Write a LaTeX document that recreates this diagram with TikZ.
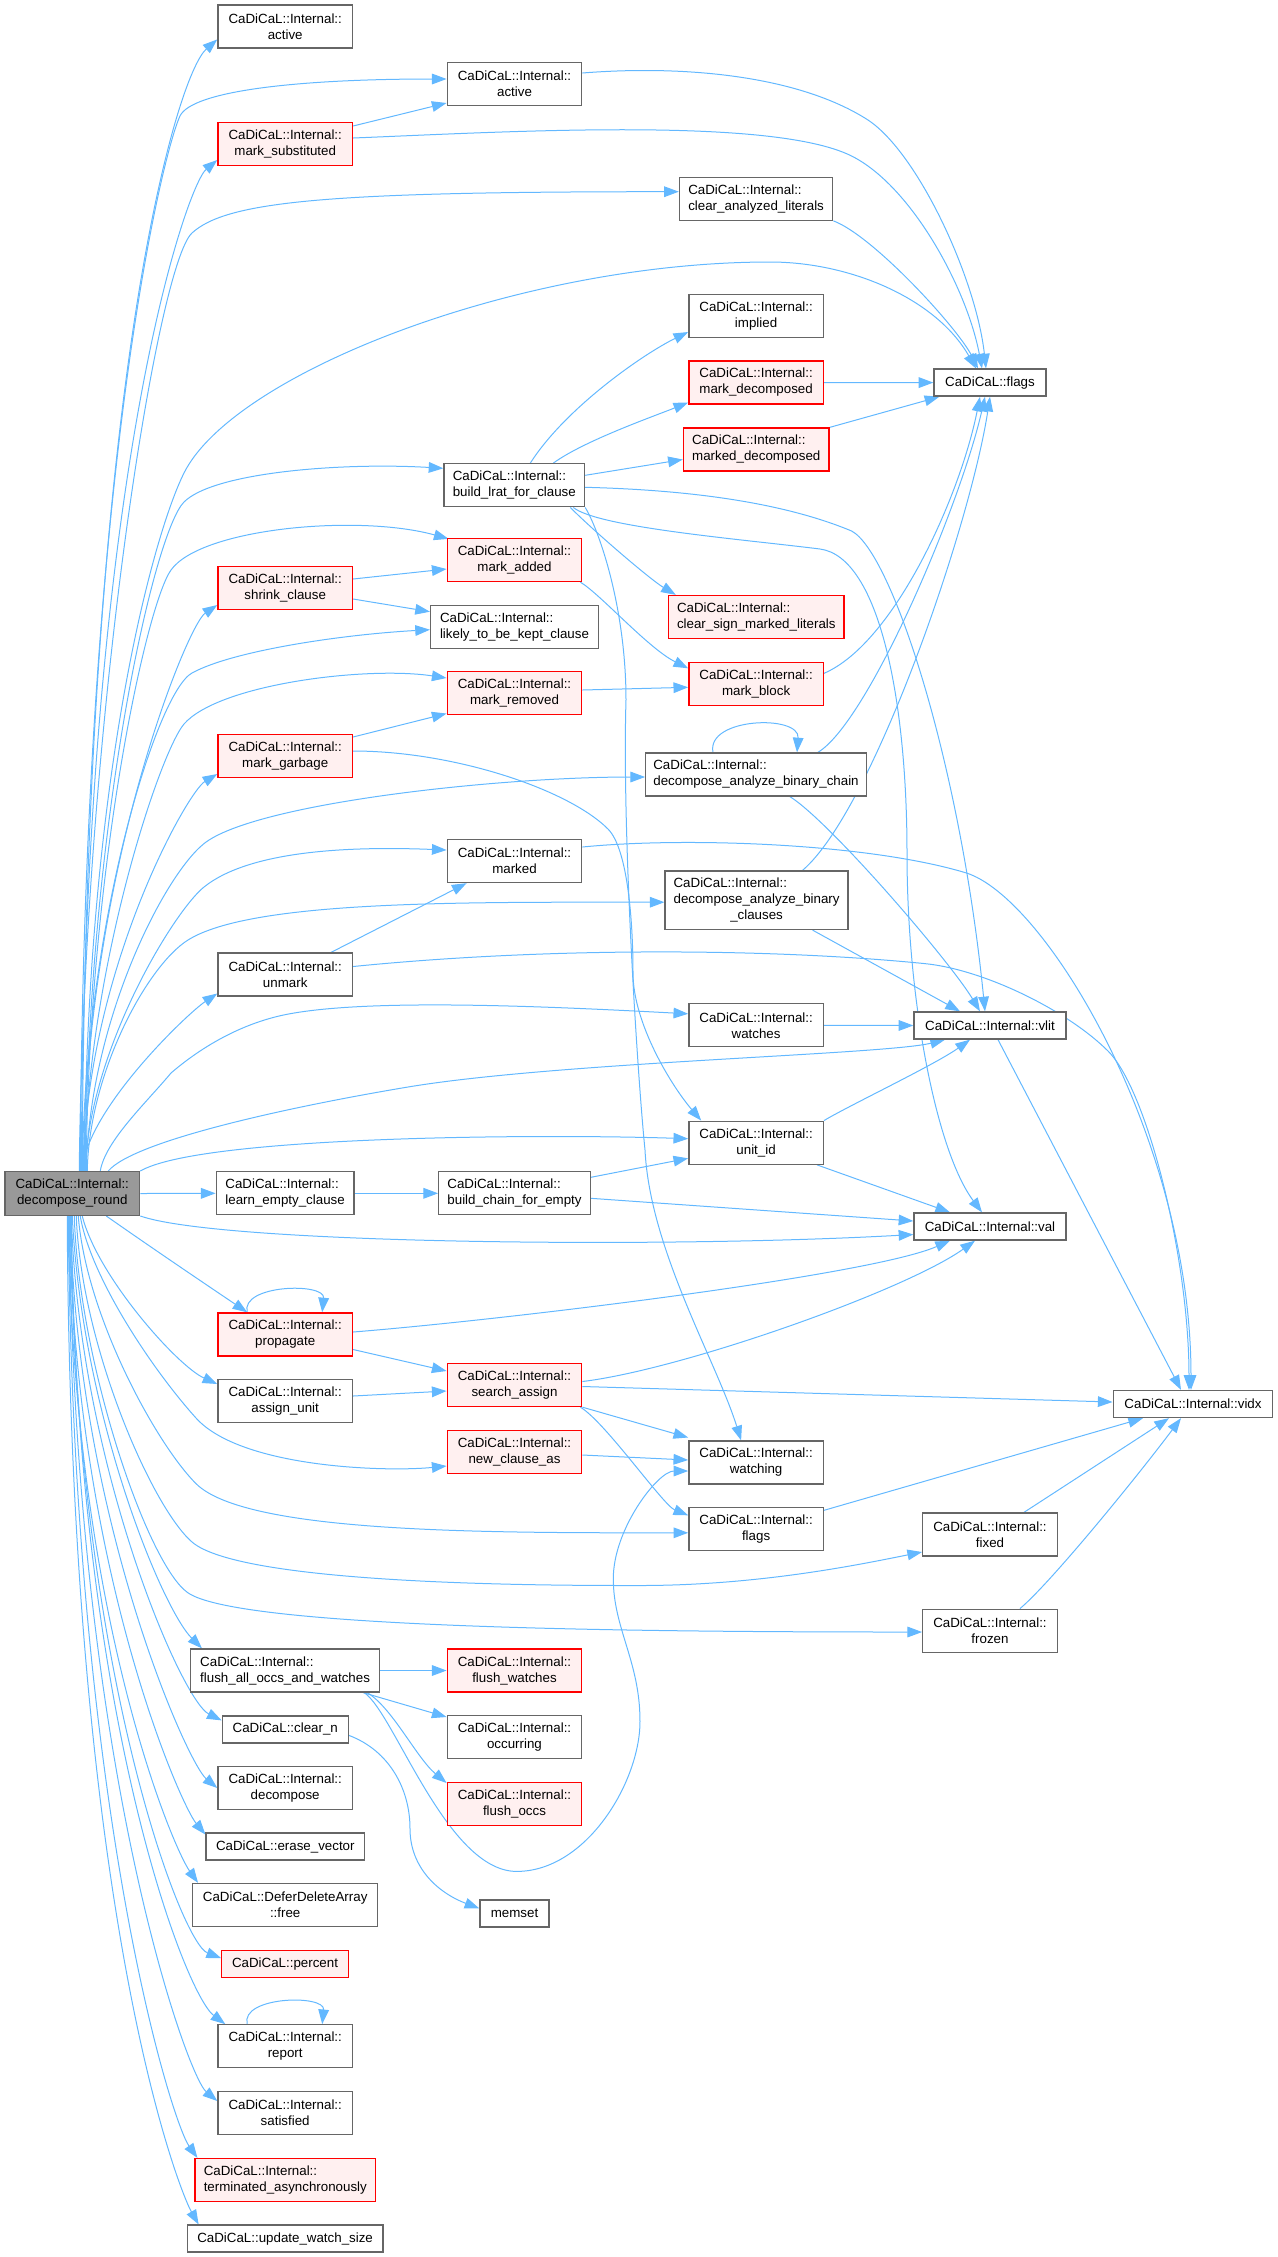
\documentclass[tikz,border=0pt]{standalone}
\usepackage{fontspec}
\setmainfont{Liberation Sans}
\usetikzlibrary{arrows.meta,calc}
\definecolor{edgec}{HTML}{63B8FF}
\definecolor{gbord}{HTML}{666666}
\definecolor{rfill}{HTML}{FFF0F0}
\definecolor{rootf}{HTML}{999999}
\pgfdeclarelayer{bg}
\pgfsetlayers{bg,main}
\begin{document}
\begin{tikzpicture}[x=0.75pt,y=-0.75pt,
  nd/.style={draw=gbord, fill=white, line width=1pt, inner sep=0pt, font=\fontsize{10}{12}\selectfont, align=center},
  rd/.style={nd, draw=red, fill=rfill},
  rt/.style={nd, fill=rootf},
  lft/.style={align=left},
  sz/.style 2 args={minimum width=#1*0.75pt, minimum height=#2*0.75pt},
  std/.style={sz={134.5}{43}},
  cg/.style={draw=edgec, line width=0.75pt, -{Triangle[length=11pt,width=8pt]}},
]
\useasboundingbox (0,0) rectangle (1278,2257);

% ---------------- nodes ----------------
\node[rt, sz={134.7}{43.6}] (root) at (72.25,1193.5) {CaDiCaL::Internal::\\decompose\_round};
% column 2
\node[nd,std] (activeA) at (285.2,26.4) {CaDiCaL::Internal::\\active};
\node[rd,std] (msub) at (285.2,144) {CaDiCaL::Internal::\\mark\_substituted};
\node[rd,std] (shrink) at (285.2,588) {CaDiCaL::Internal::\\shrink\_clause};
\node[rd,std] (mgarb) at (285.2,756) {CaDiCaL::Internal::\\mark\_garbage};
\node[nd,std] (unmark) at (285.2,974.5) {CaDiCaL::Internal::\\unmark};
\node[nd,lft,sz={137.6}{43}] (learn) at (285.1,1193.3) {CaDiCaL::Internal::\\learn\_empty\_clause};
\node[rd,std] (prop) at (285.2,1334.5) {CaDiCaL::Internal::\\propagate};
\node[nd,std] (assign) at (285.2,1401) {CaDiCaL::Internal::\\assign\_unit};
\node[nd,lft,sz={189}{43}] (flushall) at (285.1,1670.5) {CaDiCaL::Internal::\\flush\_all\_occs\_and\_watches};
\node[nd,sz={126}{27}] (clearn) at (285.3,1729.4) {CaDiCaL::clear\_n};
\node[nd,std] (decomp) at (285.2,1788) {CaDiCaL::Internal::\\decompose};
\node[nd,sz={158.4}{27}] (erase) at (285.3,1846.5) {CaDiCaL::erase\_vector};
\node[nd,sz={185}{43}] (deferfree) at (285.2,1905) {CaDiCaL::DeferDeleteArray\\::free};
\node[rd,sz={126.6}{27}] (percent) at (285,1964) {CaDiCaL::percent};
\node[nd,std] (report) at (285.2,2046.3) {CaDiCaL::Internal::\\report};
\node[nd,std] (satisfied) at (285.2,2113) {CaDiCaL::Internal::\\satisfied};
\node[rd,lft,sz={180.4}{43}] (terminated) at (285.3,2180) {CaDiCaL::Internal::\\terminated\_asynchronously};
\node[nd,sz={195.6}{27}] (updatews) at (285.1,2238.6) {CaDiCaL::update\_watch\_size};
% column 3
\node[nd,std] (activeB) at (514.5,84) {CaDiCaL::Internal::\\active};
\node[nd,lft,sz={140.5}{43}] (buildlrat) at (514.3,485.3) {CaDiCaL::Internal::\\build\_lrat\_for\_clause};
\node[rd,std] (madded) at (514.5,560) {CaDiCaL::Internal::\\mark\_added};
\node[nd,lft,sz={167.8}{43}] (likely) at (514.5,626.7) {CaDiCaL::Internal::\\likely\_to\_be\_kept\_clause};
\node[rd,std] (mremoved) at (514.5,693) {CaDiCaL::Internal::\\mark\_removed};
\node[nd,std] (marked) at (514.5,861) {CaDiCaL::Internal::\\marked};
\node[nd,lft,sz={151.4}{43}] (buildchain) at (514.5,1193.3) {CaDiCaL::Internal::\\build\_chain\_for\_empty};
\node[rd,std] (search) at (514.5,1385) {CaDiCaL::Internal::\\search\_assign};
\node[rd,std] (newclause) at (514.5,1452) {CaDiCaL::Internal::\\new\_clause\_as};
\node[rd,std] (flushw) at (514.5,1670.5) {CaDiCaL::Internal::\\flush\_watches};
\node[nd,std] (occurring) at (514.5,1737) {CaDiCaL::Internal::\\occurring};
\node[rd,std] (flushoccs) at (514.5,1804) {CaDiCaL::Internal::\\flush\_occs};
\node[nd,sz={69}{27}] (memset) at (514.5,1913.4) {memset};
% column 4
\node[nd,lft,sz={153.3}{43}] (clearana) at (756.1,198.7) {CaDiCaL::Internal::\\clear\_analyzed\_literals};
\node[nd,std] (implied) at (756.1,316) {CaDiCaL::Internal::\\implied};
\node[rd,std] (mdec) at (756.1,382.5) {CaDiCaL::Internal::\\mark\_decomposed};
\node[rd,lft,sz={145.7}{43}] (mkddec) at (756.3,449.5) {CaDiCaL::Internal::\\marked\_decomposed};
\node[rd,lft,sz={175.7}{43}] (clearsign) at (756.3,617) {CaDiCaL::Internal::\\clear\_sign\_marked\_literals};
\node[rd,std] (mblock) at (756.1,684.3) {CaDiCaL::Internal::\\mark\_block};
\node[nd,lft,sz={220.5}{43}] (chain) at (756,774.5) {CaDiCaL::Internal::\\decompose\_analyze\_binary\_chain};
\node[nd,sz={183}{58.5}] (clauses) at (756.6,900.2) {\rlap{CaDiCaL::Internal::}\hphantom{decompose\_analyze\_binary}\\decompose\_analyze\_binary\\\_clauses};
\node[nd,std] (watches) at (756.1,1025.3) {CaDiCaL::Internal::\\watches};
\node[nd,std] (unitid) at (756.1,1142.7) {CaDiCaL::Internal::\\unit\_id};
\node[nd,std] (watching) at (756.1,1462.5) {CaDiCaL::Internal::\\watching};
\node[nd,std] (flagsI) at (756.1,1529.3) {CaDiCaL::Internal::\\flags};
% column 5
\node[nd,sz={112}{27}] (flags) at (990,382.6) {CaDiCaL::flags};
\node[nd,sz={152}{27}] (vlit) at (990,1025.5) {CaDiCaL::Internal::vlit};
\node[nd,sz={152}{27}] (val) at (990,1226.5) {CaDiCaL::Internal::val};
\node[nd,std] (fixed) at (990,1534.5) {CaDiCaL::Internal::\\fixed};
\node[nd,std] (frozen) at (990,1630.7) {CaDiCaL::Internal::\\frozen};
% column 6
\node[nd,sz={159.6}{27}] (vidx) at (1193,1404) {CaDiCaL::Internal::vidx};

% ---------------- edges ----------------
\begin{pgfonlayer}{bg}
% root, upward
\draw[cg] ($(root.north)+(10,0)$) .. controls +(3,-800) and +(-40,35) .. ($(activeA.west)+(0,13)$);
\draw[cg] ($(root.north)+(8,0)$) .. controls +(3,-700) and +(-17,36) .. (180,116) .. controls +(12,-25) and +(-150,0) .. ($(activeB.west)+(0,-5)$);
\draw[cg] ($(root.north)+(9,0)$) .. controls +(3,-700) and +(-30,25) .. ($(msub.west)+(0,16)$);
\draw[cg] ($(root.north)+(7,0)$) .. controls +(5,-450) and +(-35,32) .. (192,233) .. controls +(35,-32) and +(-350,0) .. ($(clearana.west)+(0,-7)$);
\draw[cg] ($(root.north)+(12,0)$) .. controls +(3,-400) and +(-30,60) .. (184,473) .. controls +(50,-100) and +(-250,0) .. (770,262) .. controls +(80,0) and +(-40,-70) .. ($(flags.north)+(-14,0)$);
\draw[cg] ($(root.north)+(13,0)$) .. controls +(3,-350) and +(-30,30) .. (184,502) .. controls +(30,-30) and +(-100,-6) .. ($(buildlrat.west)+(0,-17)$);
\draw[cg] ($(root.north)+(14,0)$) .. controls +(2,-300) and +(-25,35) .. (171,570) .. controls +(30,-42) and +(-90,-25) .. ($(madded.north west)+(2,1)$);
\draw[cg] ($(root.north)+(11,0)$) .. controls +(3,-300) and +(-30,20) .. ($(shrink.west)+(0,17)$);
\draw[cg] ($(root.north)+(10,0)$) .. controls +(3,-250) and +(-35,19) .. (192,673) .. controls +(40,-22) and +(-90,5) .. ($(likely.west)+(0,3)$);
\draw[cg] ($(root.north)+(12,0)$) .. controls +(3,-200) and +(-25,30) .. (184,724) .. controls +(35,-40) and +(-80,-12) .. ($(mremoved.west)+(0,-15)$);
\draw[cg] ($(root.north)+(11,0)$) .. controls +(3,-200) and +(-30,18) .. ($(mgarb.west)+(0,18)$);
\draw[cg] ($(root.north)+(14,0)$) .. controls +(3,-150) and +(-40,32) .. (204,843.6) .. controls +(50,-40) and +(-150,0) .. ($(chain.west)+(0,2.5)$);
\draw[cg] ($(root.north)+(13,0)$) .. controls +(3,-120) and +(-30,24) .. (204,887) .. controls +(45,-36) and +(-100,-4) .. ($(marked.west)+(0,-11)$);
\draw[cg] ($(root.north)+(15,0)$) .. controls +(2,-100) and +(-40,25) .. (188,940) .. controls +(64,-40) and +(-200,0) .. ($(clauses.west)+(0,2)$);
\draw[cg] ($(root.north)+(10,0)$) .. controls +(3,-60) and +(-30,20) .. ($(unmark.west)+(0,19)$);
\draw[cg] ($(root.north)+(28,0)$) .. controls +(5,-30) and +(-25,30) .. (171,1073) .. controls +(35,-30) and +(-40,8) .. (286,1014.5) .. controls +(80,-16) and +(-150,-8) .. ($(watches.west)+(0,-11.5)$);
\draw[cg] ($(root.north)+(36,0)$) .. controls +(25,-30) and +(-120,20) .. (408,1087) .. controls +(150,-25) and +(-60,15) .. ($(vlit.south)+(-45,0)$);
\draw[cg] (root.north east) .. controls +(60,-35) and +(-150,-5) .. ($(unitid.west)+(0,-4)$);
\draw[cg] (root.east) -- (learn.west);
% root, downward
\draw[cg] (root.south east) .. controls +(80,28) and +(-250,14) .. ($(val.west)+(0,8)$);
\draw[cg] ($(root.south)+(34,0)$) .. controls +(50,35) and +(-40,-27) .. ($(prop.north west)+(30,0)$);
\draw[cg] ($(root.south)+(10,0)$) .. controls +(15,60) and +(-40,-18) .. ($(assign.west)+(0,-17)$);
\draw[cg] ($(root.south)+(8,0)$) .. controls +(10,60) and +(-45,-50) .. (196,1418) .. controls +(45,50) and +(-60,6) .. ($(newclause.west)+(0,14)$);
\draw[cg] ($(root.south)+(6,0)$) .. controls +(8,100) and +(-40,-40) .. (196,1483.6) .. controls +(50,50) and +(-200,0) .. ($(flagsI.west)+(0,3.5)$);
\draw[cg] ($(root.south)+(4,0)$) .. controls +(5,130) and +(-40,-35) .. (191.8,1541.8) .. controls +(50,44) and +(-80,0) .. (640,1585.5) .. controls +(120,0) and +(-60,12) .. ($(fixed.west)+(0,17.5)$);
\draw[cg] ($(root.south)+(2,0)$) .. controls +(5,150) and +(-40,-28) .. (187.8,1592.7) .. controls +(50,35) and +(-300,0) .. ($(frozen.west)+(0,1.3)$);
\draw[cg] (root.south) .. controls +(10,200) and +(-40,-40) .. ($(flushall.north west)+(12,0)$);
\draw[cg] ($(root.south)+(-1,0)$) .. controls +(8,250) and +(-40,-20) .. ($(clearn.west)+(0,-9)$);
\draw[cg] ($(root.south)+(-2,0)$) .. controls +(6,300) and +(-30,-25) .. (decomp.west);
\draw[cg] ($(root.south)+(-3,0)$) .. controls +(5,350) and +(-25,-30) .. ($(erase.west)+(0,-12)$);
\draw[cg] ($(root.south)+(-4,0)$) .. controls +(5,400) and +(-25,-35) .. ($(deferfree.north west)+(6,0)$);
\draw[cg] ($(root.south)+(-2,0)$) .. controls +(5,450) and +(-40,-15) .. ($(percent.west)+(0,-6)$);
\draw[cg] ($(root.south)+(-1,0)$) .. controls +(5,500) and +(-40,-30) .. ($(report.north west)+(8,0)$);
\draw[cg] ($(root.south)+(-3,0)$) .. controls +(5,550) and +(-30,-25) .. ($(satisfied.west)+(0,-12)$);
\draw[cg] ($(root.south)+(-4,0)$) .. controls +(5,600) and +(-25,-35) .. ($(terminated.north west)+(3,0)$);
\draw[cg] ($(root.south)+(-5,0)$) .. controls +(3,700) and +(-20,-35) .. ($(updatews.north west)+(12,0)$);
% other edges
\draw[cg] ($(msub.east)+(0,-18)$) -- ($(activeB.west)+(0,19)$);
\draw[cg] ($(msub.east)+(0,-6)$) .. controls +(150,-6) and +(-80,-40) .. (851.6,156) .. controls +(60,30) and +(-15,-80) .. ($(flags.north)+(-8,0)$);
\draw[cg] ($(activeB.east)+(0,-11)$) .. controls +(100,-8) and +(-70,-45) .. (868,120) .. controls +(50,33) and +(-10,-90) .. ($(flags.north)+(-4,0)$);
\draw[cg] (clearana.south east) .. controls +(40,15) and +(-20,-40) .. ($(flags.north)+(-12,0)$);
\draw[cg] ($(buildlrat.north)+(16,0)$) .. controls +(35,-55) and +(-45,22) .. ($(implied.west)+(0,16)$);
\draw[cg] ($(buildlrat.north)+(39,0)$) .. controls +(30,-22) and +(-35,14) .. ($(mdec.west)+(0,20)$);
\draw[cg] ($(buildlrat.east)+(0,-10)$) -- ($(mkddec.west)+(0,10)$);
\draw[cg] (mdec.east) -- (flags.west);
\draw[cg] (mkddec.north east) -- ($(flags.south west)+(6,0)$);
\draw[cg] ($(buildlrat.east)+(0,2)$) .. controls +(120,3) and +(-60,-25) .. (851.6,531) .. controls +(40,21) and +(-25,-250) .. ($(vlit.north)+(-5,0)$);
\draw[cg] ($(buildlrat.south)+(59,0)$) .. controls +(25,20) and +(-80,-10) .. (820,549) .. controls +(60,8) and +(0,-150) .. (907,853) .. controls +(0,150) and +(-45,-60) .. ($(val.north)+(-8,0)$);
\draw[cg] ($(buildlrat.south)+(56,0)$) .. controls +(25,25) and +(-25,-15) .. ($(clearsign.north west)+(8,0)$);
\draw[cg] (buildlrat.south east) .. controls +(15,25) and +(0,-90) .. (626,700) .. controls +(-4,130) and +(-8,-80) .. (645,1150) .. controls +(5,100) and +(-25,-80) .. ($(watching.north)+(-15,0)$);
\draw[cg] ($(mgarb.east)+(0,-5)$) .. controls +(100,0) and +(-40,-40) .. (608,829) .. controls +(20,20) and +(0,-50) .. (633,973) .. controls +(0,50) and +(-30,-35) .. ($(unitid.north west)+(13,0)$);
\draw[cg] ($(mgarb.east)+(0,-19)$) -- ($(mremoved.west)+(0,20.5)$);
\draw[cg] ($(shrink.east)+(0,-9)$) -- ($(madded.west)+(0,9)$);
\draw[cg] ($(shrink.east)+(0,11)$) -- ($(likely.west)+(0,-15)$);
\draw[cg] ($(madded.south east)+(-2,0)$) .. controls +(20,12) and +(-40,-20) .. ($(mblock.west)+(0,-16)$);
\draw[cg] ($(mremoved.east)+(0,-3)$) -- ($(mblock.west)+(0,3)$);
\draw[cg] ($(mblock.east)+(0,-11)$) .. controls +(70,-30) and +(-20,100) .. ($(flags.south)+(-10,0)$);
\draw[cg] ($(chain.north east)+(-49,0)$) .. controls +(50,-30) and +(-25,110) .. ($(flags.south)+(-5,0)$);
\draw[cg] ($(clauses.north)+(46,0)$) .. controls +(70,-60) and +(-20,130) .. (flags.south);
\draw[cg] ($(chain.north)+(-43,0)$) .. controls +(-7,-35) and +(3,-38) .. ($(chain.north)+(41,0)$);
\draw[cg] ($(chain.south)+(34,0)$) .. controls +(40,25) and +(-30,-50) .. ($(vlit.north)+(-10,0)$);
\draw[cg] ($(clauses.south)+(56,0)$) -- ($(vlit.north)+(-30,0)$);
\draw[cg] (watches.east) -- (vlit.west);
\draw[cg] (unitid.north east) .. controls +(25,-15) and +(-35,25) .. ($(vlit.south)+(-20,0)$);
\draw[cg] ($(marked.east)+(0,-14)$) .. controls +(100,-10) and +(-100,-30) .. (965.5,872.7) .. controls +(80,24) and +(0,-250) .. ($(vidx.north)+(-2,0)$);
\draw[cg] ($(unmark.east)+(0,-8)$) .. controls +(200,-20) and +(-150,-15) .. (924.8,963.6) .. controls +(60,6) and +(-40,-40) .. (1108,1051) .. controls +(40,40) and +(0,-130) .. ($(vidx.north)+(-4,0)$);
\draw[cg] ($(unmark.north east)+(-22,0)$) -- ($(marked.south west)+(20,0)$);
\draw[cg] ($(vlit.south)+(8,0)$) -- ($(vidx.north)+(-12,0)$);
\draw[cg] (learn.east) -- (buildchain.west);
\draw[cg] ($(buildchain.east)+(0,-16)$) -- ($(unitid.west)+(0,15.6)$);
\draw[cg] ($(buildchain.east)+(0,5)$) -- ($(val.west)+(0,-5.5)$);
\draw[cg] ($(unitid.south east)+(-7,0)$) -- ($(val.north)+(-40,0)$);
\draw[cg] ($(prop.east)+(0,-2.5)$) .. controls +(150,-12) and +(-80,35) .. ($(val.south)+(-40,0)$);
\draw[cg] ($(prop.east)+(0,15)$) -- ($(search.west)+(0,-14)$);
\draw[cg] ($(prop.north)+(-38,0)$) .. controls +(-7,-28) and +(3,-30) .. ($(prop.north)+(37,0)$);
\draw[cg] ($(assign.east)+(0,-5)$) -- ($(search.west)+(0,6)$);
\draw[cg] ($(search.east)+(0,-3.5)$) .. controls +(100,-12) and +(-70,50) .. ($(val.south)+(-15,0)$);
\draw[cg] ($(search.east)+(0,1.5)$) -- ($(vidx.west)+(0,-2)$);
\draw[cg] (search.south east) -- ($(watching.west)+(0,-25)$);
\draw[cg] ($(search.south east)+(-2,0)$) .. controls +(25,15) and +(-25,-10) .. ($(flagsI.west)+(0,-14)$);
\draw[cg] ($(newclause.east)+(0,3)$) -- ($(watching.west)+(0,-2.5)$);
\draw[cg] ($(flushall.south east)+(-16,0)$) .. controls +(30,20) and +(-70,0) .. (516.7,1871.4) .. controls +(70,0) and +(0,60) .. (640,1721.4) .. controls +(0,-60) and +(0,50) .. (613.3,1578.6) .. controls +(0,-50) and +(-30,0) .. ($(watching.west)+(0,8.5)$);
\draw[cg] (flushall.east) -- (flushw.west);
\draw[cg] ($(flushall.south east)+(-17,0)$) -- ($(occurring.west)+(0,-20)$);
\draw[cg] ($(flushall.south east)+(-13,0)$) .. controls +(25,15) and +(-30,-25) .. ($(flushoccs.west)+(0,-21)$);
\draw[cg] ($(clearn.east)+(0,6)$) .. controls +(40,15) and +(0,-40) .. (410,1828.6) .. controls +(0,40) and +(-40,-15) .. ($(memset.west)+(0,-5)$);
\draw[cg] ($(flagsI.east)+(0,-19)$) -- ($(vidx.south)+(-50,0)$);
\draw[cg] ($(fixed.north)+(34,0)$) -- ($(vidx.south)+(-24,0)$);
\draw[cg] ($(frozen.north)+(30,0)$) .. controls +(30,-25) and +(-45,60) .. ($(vidx.south)+(-12,0)$);
\draw[cg] ($(report.north)+(-38,0)$) .. controls +(-7,-28) and +(3,-30) .. ($(report.north)+(37,0)$);
\end{pgfonlayer}
\end{tikzpicture}
\end{document}
